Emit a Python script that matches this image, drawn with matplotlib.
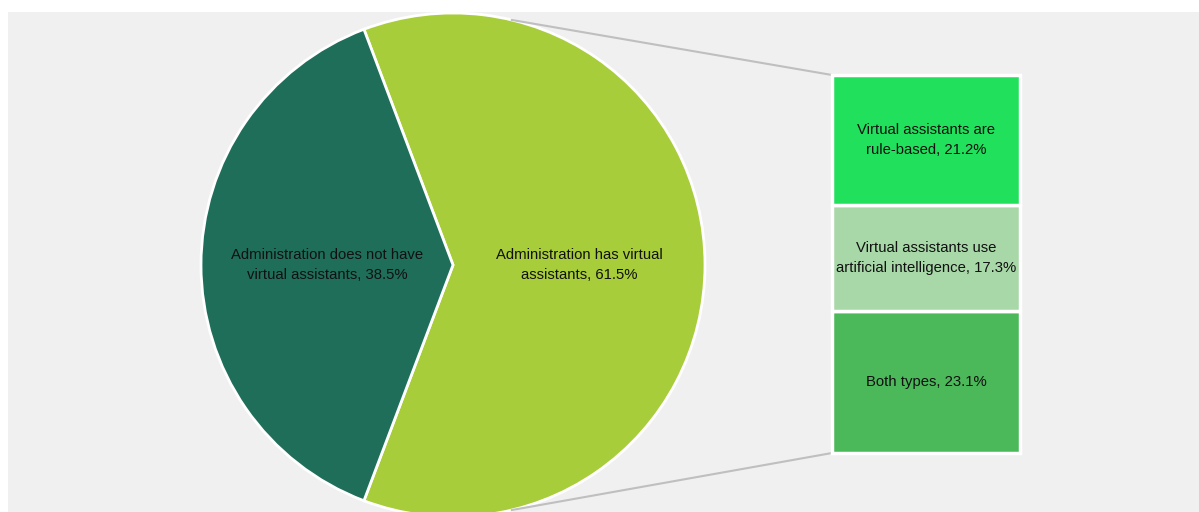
import matplotlib.pyplot as plt
import numpy as np
from matplotlib.patches import Rectangle

plt.rcParams['font.family'] = ['Liberation Sans', 'DejaVu Sans']
fontSize = 10.7

# data
pie_labels = ['Administration has virtual\nassistants, 61.5%',
              'Administration does not have\nvirtual assistants, 38.5%']
pie_values = [61.5, 38.5]
pie_colors = ['#a8cd3a', '#1f6e5a']

bar_labels = ['Both types, 23.1%',
              'Virtual assistants use\nartificial intelligence, 17.3%',
              'Virtual assistants are\nrule-based, 21.2%']
bar_values = [23.1, 17.3, 21.2]
bar_colors = ['#4bb85a', '#a8d8a8', '#20e05c']

W, H = 1199, 512
fig = plt.figure(figsize=(W/100, H/100), dpi=100)
ax = fig.add_axes([0, 0, 1, 1])
ax.set_xlim(0, W)
ax.set_ylim(0, H)
ax.set_aspect('equal')
ax.axis('off')

# grey panel
ax.add_patch(Rectangle((8, 0), W-8, H-12, facecolor='#f0f0f0', edgecolor='none', zorder=0))

# pie
cx, cy, r = 453, H-265, 252
half = pie_values[1]/100*360/2
wedges, texts = ax.pie(pie_values, labels=pie_labels, colors=pie_colors,
                       center=(cx, cy), radius=r, startangle=180+half,
                       counterclock=True, labeldistance=0.5,
                       wedgeprops=dict(edgecolor='white', linewidth=2),
                       textprops=dict(ha='center', va='center', fontsize=fontSize,
                                      color='#111111', linespacing=1.5),
                       frame=True)
ax.set_xlim(0, W)
ax.set_ylim(0, H)
ax.axis('off')

# stacked bar
scale = 378/sum(bar_values)
bx, bw, by = 926, 188, H-453
bottoms = by + np.concatenate([[0], np.cumsum(bar_values)[:-1]])*scale
bars = ax.bar([bx]*3, np.array(bar_values)*scale, width=bw, bottom=bottoms,
              color=bar_colors, edgecolor='white', linewidth=2.5, zorder=3)
for b, lab in zip(bars, bar_labels):
    ax.text(b.get_x()+b.get_width()/2, b.get_y()+b.get_height()/2, lab,
            ha='center', va='center', fontsize=fontSize, color='#111111',
            linespacing=1.5, zorder=4)

# connector lines
top = by + sum(bar_values)*scale
a = np.deg2rad(76.5)
ax.plot([cx+r*np.cos(a), bx-bw/2], [cy+r*np.sin(a), top], color='#bfbfbf', lw=1.5, zorder=1)
ax.plot([cx+r*np.cos(a), bx-bw/2], [cy-r*np.sin(a), by], color='#bfbfbf', lw=1.5, zorder=1)

plt.savefig('out.png', dpi=100)
